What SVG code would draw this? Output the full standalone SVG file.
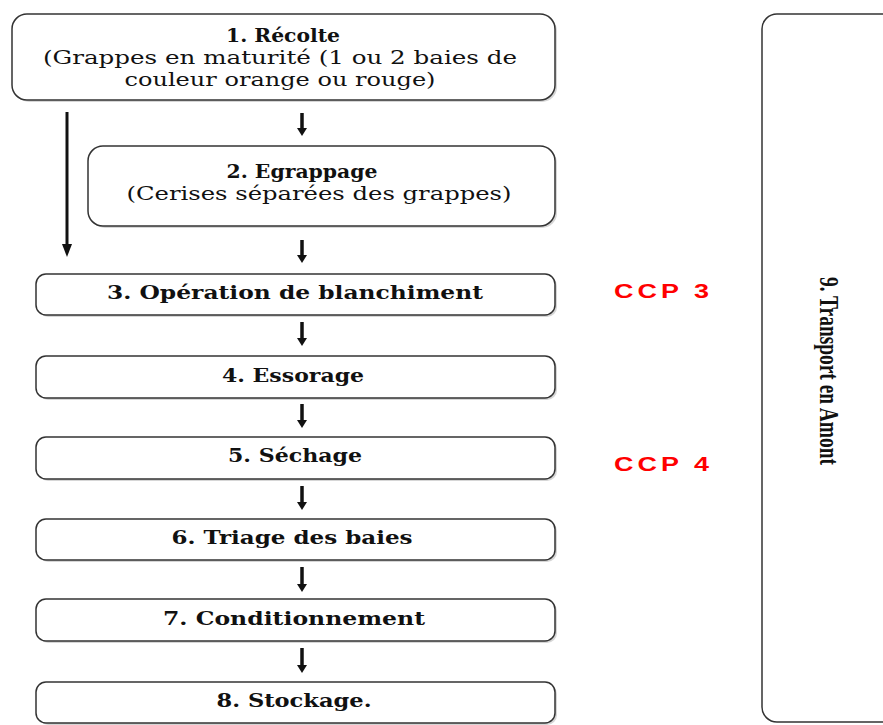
<svg xmlns="http://www.w3.org/2000/svg" width="883" height="725" viewBox="0 0 883 725">
<style>
.box{fill:#fff;stroke:#333;stroke-width:1.5}
.sh{fill:#bbb;stroke:none;opacity:0.6}
.t{font-family:"DejaVu Serif","Liberation Serif",serif;font-weight:bold;font-size:18.5px;fill:#111;text-anchor:middle}
.n{font-family:"DejaVu Serif","Liberation Serif",serif;font-size:18.5px;fill:#111;text-anchor:middle}
.ccp{font-family:"Liberation Sans",Arial,sans-serif;font-weight:bold;font-size:20px;fill:#ff0000;letter-spacing:3px}
.conn{stroke:#111;stroke-width:3.5;fill:none}
.head{fill:#111}
</style>
<g id="connectors">
<line class="conn" x1="67" y1="112" x2="67" y2="246" style="stroke-width:3"/>
<polygon class="head" points="62,244 72,244 67,257"/>
<line class="conn" x1="302" y1="113" x2="302" y2="130"/><polygon class="head" points="297,128 307,128 302,136"/>
<line class="conn" x1="302" y1="240" x2="302" y2="257"/><polygon class="head" points="297,255 307,255 302,263"/>
<line class="conn" x1="302" y1="322" x2="302" y2="340"/><polygon class="head" points="297,338 307,338 302,346"/>
<line class="conn" x1="302" y1="404" x2="302" y2="422"/><polygon class="head" points="297,420 307,420 302,428"/>
<line class="conn" x1="302" y1="486" x2="302" y2="504"/><polygon class="head" points="297,502 307,502 302,510"/>
<line class="conn" x1="302" y1="567" x2="302" y2="586"/><polygon class="head" points="297,584 307,584 302,592"/>
<line class="conn" x1="302" y1="648" x2="302" y2="667"/><polygon class="head" points="297,665 307,665 302,673"/>
</g>
<g id="n1">
<rect class="sh" x="14" y="16" width="543" height="86" rx="15"/>
<rect class="box" x="12" y="14" width="543" height="86" rx="15"/>
<text class="t" x="283" y="42" textLength="114" lengthAdjust="spacingAndGlyphs">1. Récolte</text>
<text class="n" x="280" y="64" textLength="474" lengthAdjust="spacingAndGlyphs">(Grappes en maturité (1 ou 2 baies de</text>
<text class="n" x="280" y="86" textLength="311" lengthAdjust="spacingAndGlyphs">couleur orange ou rouge)</text>
</g>
<g id="n2">
<rect class="sh" x="90" y="148" width="467" height="80" rx="15"/>
<rect class="box" x="88" y="146" width="467" height="80" rx="15"/>
<text class="t" x="302" y="178" textLength="151" lengthAdjust="spacingAndGlyphs">2. Egrappage</text>
<text class="n" x="319" y="200" textLength="385" lengthAdjust="spacingAndGlyphs">(Cerises séparées des grappes)</text>
</g>
<g id="n3">
<rect class="sh" x="38" y="276" width="519" height="41" rx="10"/>
<rect class="box" x="36" y="274" width="519" height="41" rx="10"/>
<text class="t" x="295" y="299" textLength="376" lengthAdjust="spacingAndGlyphs">3. Opération de blanchiment</text>
</g>
<g id="n4">
<rect class="sh" x="38" y="358" width="519" height="42" rx="10"/>
<rect class="box" x="36" y="356" width="519" height="42" rx="10"/>
<text class="t" x="293" y="382" textLength="142" lengthAdjust="spacingAndGlyphs">4. Essorage</text>
</g>
<g id="n5">
<rect class="sh" x="38" y="439" width="519" height="42" rx="10"/>
<rect class="box" x="36" y="437" width="519" height="42" rx="10"/>
<text class="t" x="295" y="462" textLength="134" lengthAdjust="spacingAndGlyphs">5. Séchage</text>
</g>
<g id="n6">
<rect class="sh" x="38" y="521" width="519" height="41" rx="10"/>
<rect class="box" x="36" y="519" width="519" height="41" rx="10"/>
<text class="t" x="292" y="544" textLength="241" lengthAdjust="spacingAndGlyphs">6. Triage des baies</text>
</g>
<g id="n7">
<rect class="sh" x="38" y="601" width="519" height="42" rx="10"/>
<rect class="box" x="36" y="599" width="519" height="42" rx="10"/>
<text class="t" x="294" y="625" textLength="262" lengthAdjust="spacingAndGlyphs">7. Conditionnement</text>
</g>
<g id="n8">
<rect class="sh" x="38" y="684" width="519" height="41" rx="10"/>
<rect class="box" x="36" y="682" width="519" height="41" rx="10"/>
<text class="t" x="294" y="707" textLength="155" lengthAdjust="spacingAndGlyphs">8. Stockage.</text>
</g>
<g id="n9">
<rect class="box" x="762" y="14" width="160" height="708" rx="15"/>
<text transform="translate(820,371) rotate(90)" style="font-family:'Liberation Serif','Times New Roman',serif;font-weight:bold;font-size:27px;fill:#111;text-anchor:middle" textLength="188" lengthAdjust="spacingAndGlyphs">9. Transport en Amont</text>
</g>
<g id="ccp">
<text class="ccp" x="614" y="298" textLength="99" lengthAdjust="spacingAndGlyphs">CCP 3</text>
<text class="ccp" x="614" y="471" textLength="99" lengthAdjust="spacingAndGlyphs">CCP 4</text>
</g>
</svg>
